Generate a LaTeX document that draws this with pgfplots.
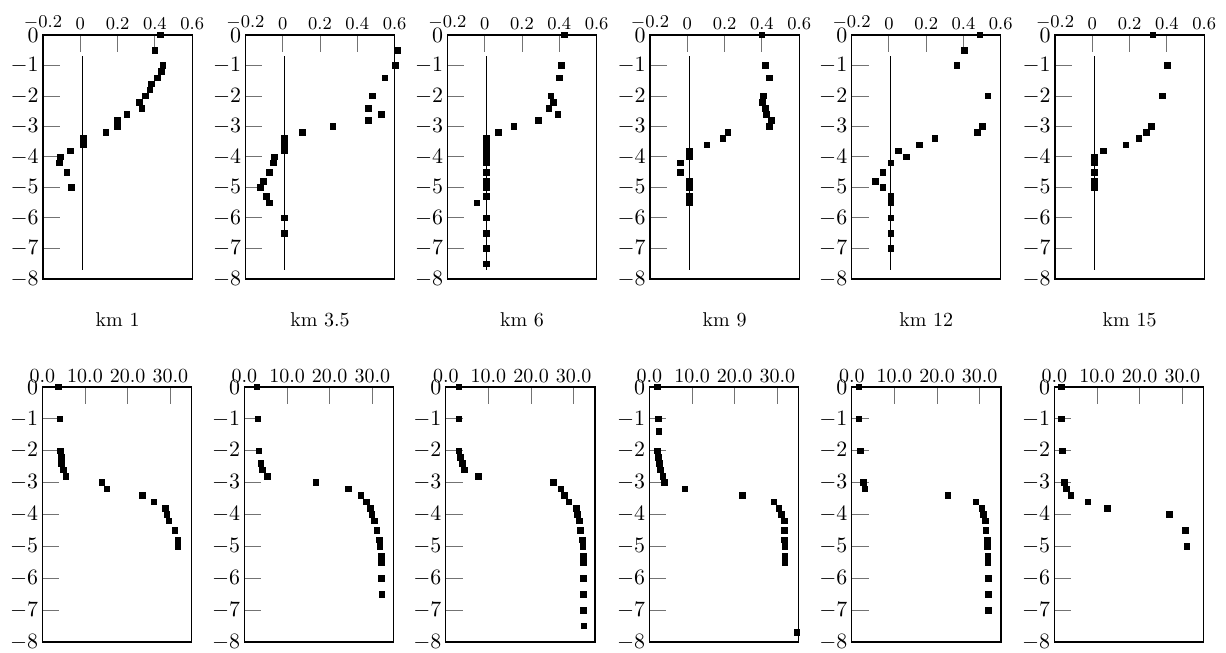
\documentclass[border=0pt]{standalone}
\usepackage{pgfplots}
\pgfplotsset{compat=1.18}

\pgfplotsset{
  panel/.style={
    scale only axis, width=74.6pt, clip=false,
    anchor=north west,
    ymin=-8, ymax=0, ytick={-8,-7,-6,-5,-4,-3,-2,-1,0},
    xtick pos=right, xticklabel pos=right, ytick pos=left,
    tick align=inside, major tick length=8.5pt,
    major tick style={black!55, line width=0.5pt},
    axis line style={line width=0.65pt},
    yticklabel style={font=\fontsize{11.2}{13}\selectfont, inner sep=2pt},
  },
  toprow/.style={panel, height=122pt,
    xmin=-0.2, xmax=0.6, xtick={-0.2,0,0.2,0.4,0.6},
    xticklabel style={font=\fontsize{8.6}{10}\selectfont, inner sep=2.5pt}},
  botrow/.style={panel, height=127.5pt,
    xmin=0, xmax=35, xtick={0,10,20,30},
    xticklabels={$0.0$,$10.0$,$20.0$,$30.0$},
    xticklabel style={font=\fontsize{9.6}{11}\selectfont, inner sep=2pt}},
  pts/.style={only marks, mark=square*, mark size=1.4pt, black},
  zline/.style={black, line width=0.5pt, no markers},
}
\newcommand{\kmtitle}[1]{\node[anchor=base, font=\fontsize{10}{12}\selectfont]
  at (rel axis cs:0.5,0) [yshift=-24pt] {#1};}

\begin{document}
\begin{tikzpicture}
\path[use as bounding box] (0,0) rectangle (613pt,-326.5pt);

% ---- top row: -0.2 .. 0.6
\begin{axis}[toprow, at={(21.5pt,-17.5pt)}]
\addplot[zline] coordinates {(0.01,-0.7)(0.01,-7.7)};
\addplot[pts] coordinates {(0.43,0)(0.40,-0.5)(0.443,-1.0)(0.435,-1.2)(0.414,-1.4)(0.38,-1.6)(0.373,-1.8)(0.348,-2.0)(0.316,-2.2)(0.33,-2.4)(0.249,-2.6)(0.20,-2.8)(0.199,-3.0)(0.137,-3.2)(0.018,-3.4)(0.018,-3.6)(-0.053,-3.8)(-0.107,-4.0)(-0.112,-4.2)(-0.071,-4.5)(-0.048,-5.0)};
\kmtitle{km 1}
\end{axis}

\begin{axis}[toprow, at={(122.7pt,-17.5pt)}]
\addplot[zline] coordinates {(0.01,-0.7)(0.01,-7.7)};
\addplot[pts] coordinates {(0.615,-0.5)(0.604,-1.0)(0.547,-1.4)(0.48,-2.0)(0.458,-2.4)(0.53,-2.6)(0.46,-2.8)(0.269,-3.0)(0.107,-3.2)(0.01,-3.4)(0.01,-3.6)(0.01,-3.8)(-0.045,-4.0)(-0.049,-4.2)(-0.071,-4.5)(-0.102,-4.8)(-0.118,-5.0)(-0.087,-5.3)(-0.071,-5.5)(0.01,-6.0)(0.01,-6.5)};
\kmtitle{km 3.5}
\end{axis}

\begin{axis}[toprow, at={(223.7pt,-17.5pt)}]
\addplot[zline] coordinates {(0.01,-0.7)(0.01,-7.7)};
\addplot[pts] coordinates {(0.428,0)(0.41,-1.0)(0.40,-1.4)(0.356,-2.0)(0.367,-2.2)(0.344,-2.4)(0.392,-2.6)(0.288,-2.8)(0.157,-3.0)(0.073,-3.2)(0.01,-3.4)(0.01,-3.6)(0.01,-3.8)(0.01,-4.0)(0.01,-4.2)(0.01,-4.5)(0.01,-4.8)(0.01,-5.0)(0.01,-5.3)(-0.041,-5.5)(0.01,-6.0)(0.01,-6.5)(0.01,-7.0)(0.01,-7.5)};
\kmtitle{km 6}
\end{axis}

\begin{axis}[toprow, at={(325pt,-17.5pt)}]
\addplot[zline] coordinates {(0.01,-0.7)(0.01,-7.7)};
\addplot[pts] coordinates {(0.40,0)(0.42,-1.0)(0.44,-1.4)(0.407,-2.0)(0.404,-2.2)(0.418,-2.4)(0.423,-2.6)(0.45,-2.8)(0.44,-3.0)(0.218,-3.2)(0.19,-3.4)(0.105,-3.6)(0.01,-3.8)(0.012,-4.0)(-0.037,-4.2)(-0.037,-4.5)(0.01,-4.8)(0.01,-5.0)(0.01,-5.3)(0.01,-5.5)};
\kmtitle{km 9}
\end{axis}

\begin{axis}[toprow, at={(425.8pt,-17.5pt)}]
\addplot[zline] coordinates {(0.01,-0.7)(0.01,-7.7)};
\addplot[pts] coordinates {(0.487,0)(0.404,-0.5)(0.364,-1.0)(0.53,-2.0)(0.50,-3.0)(0.475,-3.2)(0.246,-3.4)(0.164,-3.6)(0.05,-3.8)(0.093,-4.0)(0.01,-4.2)(-0.032,-4.5)(-0.071,-4.8)(-0.032,-5.0)(0.01,-5.3)(0.01,-5.5)(0.01,-6.0)(0.01,-6.5)(0.01,-7.0)};
\kmtitle{km 12}
\end{axis}

\begin{axis}[toprow, at={(527.5pt,-17.5pt)}]
\addplot[zline] coordinates {(0.01,-0.7)(0.01,-7.7)};
\addplot[pts] coordinates {(0.325,0)(0.404,-1.0)(0.375,-2.0)(0.316,-3.0)(0.291,-3.2)(0.25,-3.4)(0.18,-3.6)(0.059,-3.8)(0.01,-4.0)(0.01,-4.2)(0.01,-4.5)(0.01,-4.8)(0.01,-5.0)};
\kmtitle{km 15}
\end{axis}

% ---- bottom row: 0 .. 35
\begin{axis}[botrow, at={(21.2pt,-193.5pt)}]
\addplot[pts] coordinates {(3.7,0)(4.1,-1.0)(4.2,-2.0)(4.4,-2.2)(4.5,-2.4)(4.9,-2.6)(5.5,-2.8)(14.0,-3.0)(15.1,-3.2)(23.4,-3.4)(26.2,-3.6)(28.9,-3.8)(29.2,-4.0)(29.7,-4.2)(31.1,-4.5)(31.8,-4.8)(31.8,-5.0)};
\end{axis}

\begin{axis}[botrow, at={(122.2pt,-193.5pt)}]
\addplot[pts] coordinates {(2.9,0)(3.2,-1.0)(3.4,-2.0)(3.9,-2.4)(4.2,-2.6)(5.4,-2.8)(16.8,-3.0)(24.4,-3.2)(27.3,-3.4)(28.6,-3.6)(29.6,-3.8)(29.9,-4.0)(30.5,-4.2)(31.1,-4.5)(31.7,-4.8)(31.8,-5.0)(32.1,-5.3)(32.1,-5.5)(32.1,-6.0)(32.3,-6.5)};
\end{axis}

\begin{axis}[botrow, at={(222.9pt,-193.5pt)}]
\addplot[pts] coordinates {(3.1,0)(3.1,-1.0)(3.1,-2.0)(3.4,-2.2)(3.9,-2.4)(4.3,-2.6)(7.7,-2.8)(25.3,-3.0)(27.0,-3.2)(27.8,-3.4)(28.9,-3.6)(30.6,-3.8)(30.9,-4.0)(31.4,-4.2)(31.6,-4.5)(32.1,-4.8)(32.2,-5.0)(32.3,-5.3)(32.3,-5.5)(32.3,-6.0)(32.3,-6.5)(32.3,-7.0)(32.4,-7.5)};
\end{axis}

\begin{axis}[botrow, at={(324.7pt,-193.5pt)}]
\addplot[pts] coordinates {(1.9,0)(2.1,-1.0)(2.2,-1.4)(1.9,-2.0)(2.1,-2.2)(2.3,-2.4)(2.6,-2.6)(3.2,-2.8)(3.5,-3.0)(8.3,-3.2)(21.8,-3.4)(29.2,-3.6)(30.4,-3.8)(31.0,-4.0)(31.6,-4.2)(31.7,-4.5)(31.7,-4.8)(31.8,-5.0)(31.8,-5.3)(31.8,-5.5)(34.6,-7.7)};
\end{axis}

\begin{axis}[botrow, at={(425.9pt,-193.5pt)}]
\addplot[pts] coordinates {(1.7,0)(1.7,-1.0)(2.0,-2.0)(2.7,-3.0)(3.1,-3.2)(22.5,-3.4)(29.1,-3.6)(30.5,-3.8)(30.8,-4.0)(31.3,-4.2)(31.5,-4.5)(31.8,-4.8)(31.8,-5.0)(31.9,-5.3)(31.9,-5.5)(32.0,-6.0)(32.0,-6.5)(32.0,-7.0)};
\end{axis}

\begin{axis}[botrow, at={(527.2pt,-193.5pt)}]
\addplot[pts] coordinates {(1.7,0)(1.7,-1.0)(1.9,-2.0)(2.3,-3.0)(2.8,-3.2)(3.9,-3.4)(7.9,-3.6)(12.5,-3.8)(27.0,-4.0)(30.7,-4.5)(31.1,-5.0)};
\end{axis}
\end{tikzpicture}
\end{document}
